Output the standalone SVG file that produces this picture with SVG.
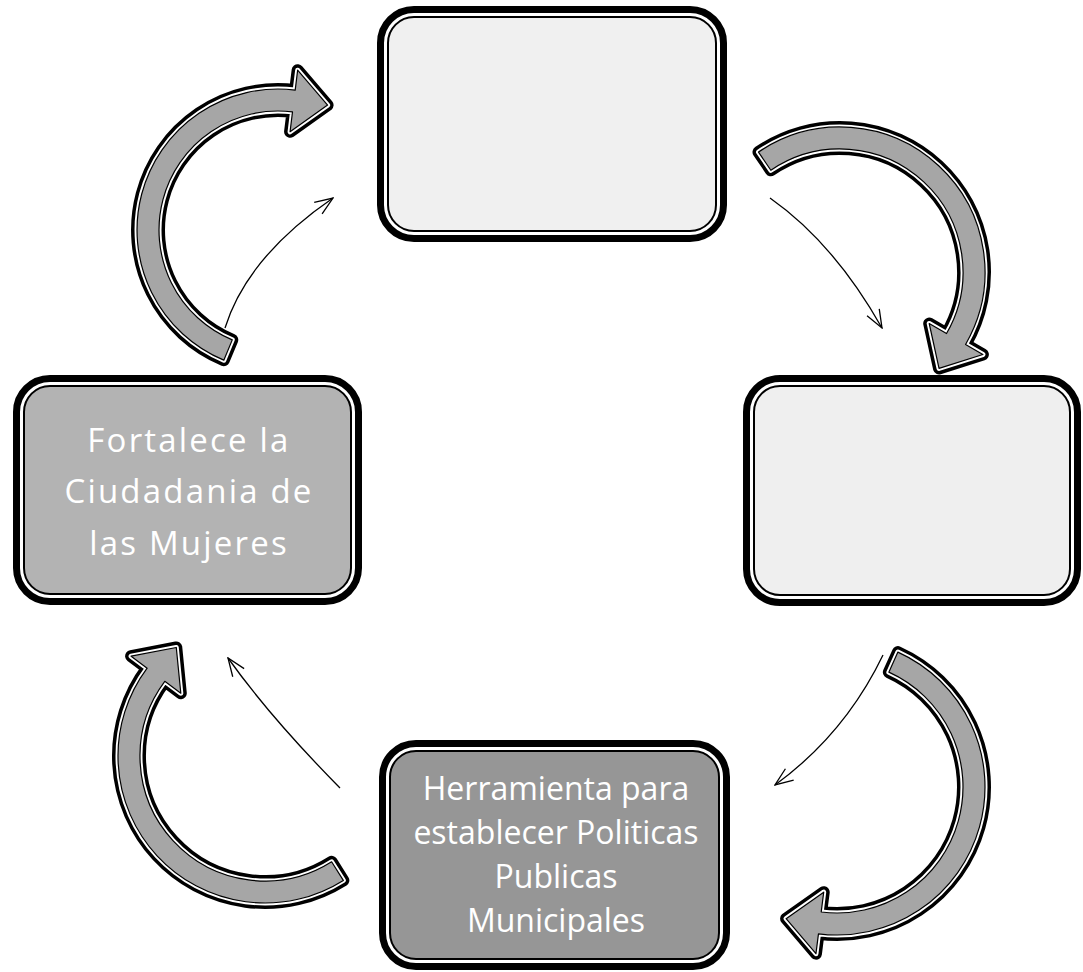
<svg xmlns="http://www.w3.org/2000/svg" width="1083" height="972" viewBox="0 0 1083 972">
<style>
.box-o{fill:none;stroke:#000;stroke-width:22}
.box-w{fill:none;stroke:#fff;stroke-width:8}
.box-f{stroke:#000;stroke-width:2}
.arr-o{fill:#000;stroke:#000;stroke-width:12;stroke-linejoin:round}
.arr-w{fill:none;stroke:#fff;stroke-width:5;stroke-linejoin:round}
.arr-f{fill:#a6a6a6;stroke:#000;stroke-width:1.2;stroke-linejoin:round}
.thin{fill:none;stroke:#000;stroke-width:1.3;marker-end:url(#open)}
.lbl{font-family:"Open Sans","Liberation Sans",sans-serif;fill:#fff;text-anchor:middle;font-size:32px}
</style>
<defs>
<marker id="open" viewBox="0 0 20 16" refX="19" refY="8" markerWidth="20" markerHeight="16" markerUnits="userSpaceOnUse" orient="auto">
<path d="M1,1 L19,8 L1,15" fill="none" stroke="#000" stroke-width="1.3"/>
</marker>
<path id="a1" d="M223.81,360.17 A141,141 0 0 1 295.19,90.06 L297.63,70.21 L327.6,105.1 L290.07,131.74 L292.51,111.89 A119,119 0 0 0 232.27,339.86 Z"/>
<path id="a2" d="M758.5,152.07 A145,145 0 0 1 965.57,344.5 L982.89,354.5 L939.04,368.44 L929.2,323.5 L946.52,333.5 A123,123 0 0 0 770.86,170.27 Z"/>
<path id="a3" d="M897.9,652.11 A148,148 0 0 1 818.46,933.83 L815.95,953.67 L786.1,918.66 L823.72,892.16 L821.21,912 A126,126 0 0 0 888.85,672.16 Z"/>
<path id="a4" d="M343.34,880.39 A147,147 0 0 1 147.14,668.15 L131.1,656.2 L176.28,647.47 L180.81,693.25 L164.77,681.3 A125,125 0 0 0 331.61,861.78 Z"/>
</defs>
<rect width="1083" height="972" fill="#fff"/>
<g id="connectors">
<use href="#a1" class="arr-o"/><use href="#a1" class="arr-w"/><use href="#a1" class="arr-f"/>
<use href="#a2" class="arr-o"/><use href="#a2" class="arr-w"/><use href="#a2" class="arr-f"/>
<use href="#a3" class="arr-o"/><use href="#a3" class="arr-w"/><use href="#a3" class="arr-f"/>
<use href="#a4" class="arr-o"/><use href="#a4" class="arr-w"/><use href="#a4" class="arr-f"/>
<path class="thin" d="M225,328 Q247,257 333,198"/>
<path class="thin" d="M770,198 Q834,243 882,328"/>
<path class="thin" d="M883,655 Q845,734 775,785"/>
<path class="thin" d="M340,788 Q270,717 228,658"/>
</g>
<g id="node-top">
<rect x="388" y="17" width="328" height="214" rx="26" class="box-o"/>
<rect x="388" y="17" width="328" height="214" rx="26" class="box-w"/>
<rect x="388" y="17" width="328" height="214" rx="26" class="box-f" fill="#f0f0f0"/>
</g>
<g id="node-right">
<rect x="754" y="386" width="316" height="209" rx="26" class="box-o"/>
<rect x="754" y="386" width="316" height="209" rx="26" class="box-w"/>
<rect x="754" y="386" width="316" height="209" rx="26" class="box-f" fill="#efefef"/>
</g>
<g id="node-bottom">
<rect x="390" y="751" width="329" height="208" rx="26" class="box-o"/>
<rect x="390" y="751" width="329" height="208" rx="26" class="box-w"/>
<rect x="390" y="751" width="329" height="208" rx="26" class="box-f" fill="#969696"/>
<text class="lbl" x="556" y="800">Herramienta para</text>
<text class="lbl" x="556" y="844">establecer Politicas</text>
<text class="lbl" x="556" y="888">Publicas</text>
<text class="lbl" x="556" y="932">Municipales</text>
</g>
<g id="node-left">
<rect x="24" y="386" width="327" height="208" rx="26" class="box-o"/>
<rect x="24" y="386" width="327" height="208" rx="26" class="box-w"/>
<rect x="24" y="386" width="327" height="208" rx="26" class="box-f" fill="#b3b3b3"/>
<text class="lbl" x="189" y="452" style="font-size:33px;letter-spacing:2.2px">Fortalece la</text>
<text class="lbl" x="189" y="503" style="font-size:33px;letter-spacing:2.2px">Ciudadania de</text>
<text class="lbl" x="189" y="555" style="font-size:33px;letter-spacing:2.2px">las Mujeres</text>
</g>
</svg>
